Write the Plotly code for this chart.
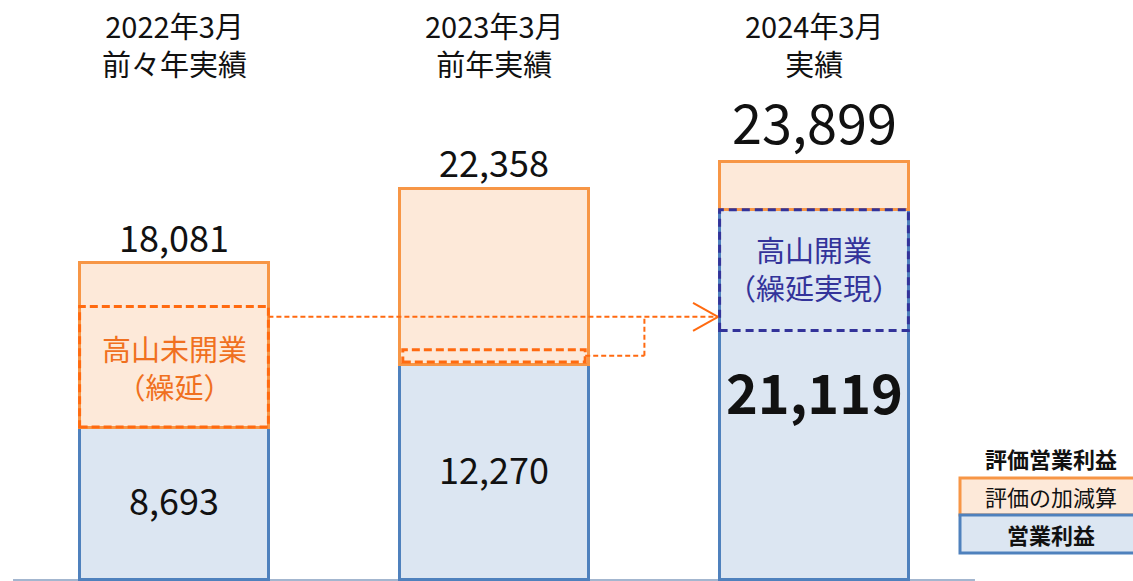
import plotly.graph_objects as go

# ---- data ----
periods = ["2022年3月<br>前々年実績", "2023年3月<br>前年実績", "2024年3月<br>実績"]
operating_profit = [8693, 12270, 21119]          # 営業利益
valuation_profit = [18081, 22358, 23899]         # 評価営業利益
adjustment = [t - b for t, b in zip(valuation_profit, operating_profit)]  # 評価の加減算
takayama_deferred = 6900      # 高山未開業（繰延） amount (estimated)
takayama_small = 700          # small deferred part in 2023 (estimated)
arrow_level = 15000           # level of the arrow (estimated)

xs = [0, 1, 2]
W = 0.59

BLUE_FILL = "#DCE6F2"
BLUE_LINE = "#4F81BD"
OR_FILL = "#FDE9D9"
OR_LINE = "#F79646"
OR_DASH = "#FF6A10"
NAVY = "#33339A"
FONT = "Noto Sans CJK JP"

fig = go.Figure()
fig.add_trace(go.Bar(x=xs, y=operating_profit, width=W, name="営業利益",
                     marker=dict(color=BLUE_FILL, line=dict(color=BLUE_LINE, width=3)),
                     hoverinfo="skip"))
fig.add_trace(go.Bar(x=xs, y=adjustment, width=W, name="評価の加減算",
                     marker=dict(color=OR_FILL, line=dict(color=OR_LINE, width=3)),
                     hoverinfo="skip"))

ann = []
shapes = []

# category labels at top
for i, p in enumerate(periods):
    ann.append(dict(x=xs[i], y=1, xref="x", yref="paper", xanchor="center", yanchor="top", yshift=-2,
                    text=p, showarrow=False, font=dict(family=FONT, size=29, color="#111111")))

# value labels
for i in xs:
    big = (i == 2)
    ann.append(dict(x=xs[i], y=valuation_profit[i], xref="x", yref="y", xanchor="center",
                    yanchor="bottom", yshift=0, borderpad=0,
                    text=f"{valuation_profit[i]:,}", showarrow=False,
                    font=dict(family=FONT, size=54 if big else 36, color="#111111")))
    ann.append(dict(x=xs[i], y=operating_profit[i] / 2, xref="x", yref="y", xanchor="center",
                    yanchor="middle", yshift=4,
                    text=f"{operating_profit[i]:,}", showarrow=False,
                    font=dict(family=FONT, size=54 if big else 36, color="#111111",
                              weight="bold" if big else "normal")))

# dashed boxes
b0_lo = operating_profit[0]
b0_hi = operating_profit[0] + takayama_deferred
shapes.append(dict(type="rect", xref="x", yref="y", x0=xs[0] - W / 2, x1=xs[0] + W / 2,
                   y0=b0_lo, y1=b0_hi, line=dict(color=OR_DASH, width=3, dash="8px,4px")))
b1_lo = operating_profit[1] + 150
b1_hi = operating_profit[1] + takayama_small + 150
shapes.append(dict(type="rect", xref="x", yref="y", x0=xs[1] - W / 2 + 0.01, x1=xs[1] + W / 2 - 0.01,
                   y0=b1_lo, y1=b1_hi, line=dict(color=OR_DASH, width=3, dash="8px,4px")))
b2_hi = operating_profit[2]
b2_lo = operating_profit[2] - takayama_deferred
shapes.append(dict(type="rect", xref="x", yref="y", x0=xs[2] - W / 2, x1=xs[2] + W / 2,
                   y0=b2_lo, y1=b2_hi, line=dict(color=NAVY, width=3, dash="8px,5px")))

# arrow lines
tip_x = xs[2] - W / 2 - 0.005
arrow_dash = dict(color=OR_DASH, width=2, dash="5px,3px")
shapes.append(dict(type="line", xref="x", yref="y", x0=xs[0] + W / 2, x1=tip_x,
                   y0=arrow_level, y1=arrow_level, line=arrow_dash))
mid_y = (b1_lo + b1_hi) / 2
elbow_x = xs[1] + 0.47
shapes.append(dict(type="line", xref="x", yref="y", x0=xs[1] + W / 2 - 0.01, x1=elbow_x,
                   y0=mid_y, y1=mid_y, line=arrow_dash))
shapes.append(dict(type="line", xref="x", yref="y", x0=elbow_x, x1=elbow_x,
                   y0=mid_y, y1=arrow_level, line=arrow_dash))
for dy in (800, -800):
    shapes.append(dict(type="line", xref="x", yref="y", x0=tip_x - 0.078, x1=tip_x,
                       y0=arrow_level + dy, y1=arrow_level, line=dict(color=OR_DASH, width=2)))

# box labels
ann.append(dict(x=xs[0], y=(b0_lo + b0_hi) / 2, xref="x", yref="y", text="高山未開業<br>（繰延）",
                xanchor="center", yanchor="middle",
                showarrow=False, font=dict(family=FONT, size=29, color="#F07020")))
ann.append(dict(x=xs[2], y=(b2_lo + b2_hi) / 2, xref="x", yref="y", text="高山開業<br>（繰延実現）",
                xanchor="center", yanchor="middle", yshift=2,
                showarrow=False, font=dict(family=FONT, size=29, color=NAVY)))

# baseline
shapes.append(dict(type="line", xref="x", yref="y", x0=-0.503, x1=2.503, y0=-60, y1=-60,
                   layer="below", line=dict(color="#A3B6CF", width=2)))

# custom legend (paper coords from pixels)
FW, FH = 1133, 581
def px(v): return v / FW
def py(v): return 1 - v / FH

shapes.append(dict(type="rect", xref="paper", yref="paper", x0=px(960), x1=px(1145),
                   y0=py(515), y1=py(478), fillcolor=OR_FILL, line=dict(color=OR_LINE, width=3)))
shapes.append(dict(type="rect", xref="paper", yref="paper", x0=px(960), x1=px(1145),
                   y0=py(553), y1=py(515), fillcolor=BLUE_FILL, line=dict(color=BLUE_LINE, width=3)))
for txt, yy, bold in [("評価営業利益", 458, True), ("評価の加減算", 496, False), ("営業利益", 534, True)]:
    ann.append(dict(x=px(1051), y=py(yy), xref="paper", yref="paper", xanchor="center", yanchor="middle",
                    text=txt, showarrow=False,
                    font=dict(family=FONT, size=22, color="#111111", weight="bold" if bold else "normal")))

fig.update_layout(
    barmode="stack", showlegend=False,
    width=1133, height=581,
    margin=dict(l=0, r=0, t=0, b=0),
    paper_bgcolor="white", plot_bgcolor="white",
    xaxis=dict(visible=False, range=[-174 / 320, (1133 - 174) / 320]),
    yaxis=dict(visible=False, range=[-2 / 0.01748, 579 / 0.01748]),
    annotations=ann, shapes=shapes,
)

fig.write_html("out.html", config={"displayModeBar": False},
               post_script="document.body.style.margin='0';document.body.style.overflow='hidden';")
